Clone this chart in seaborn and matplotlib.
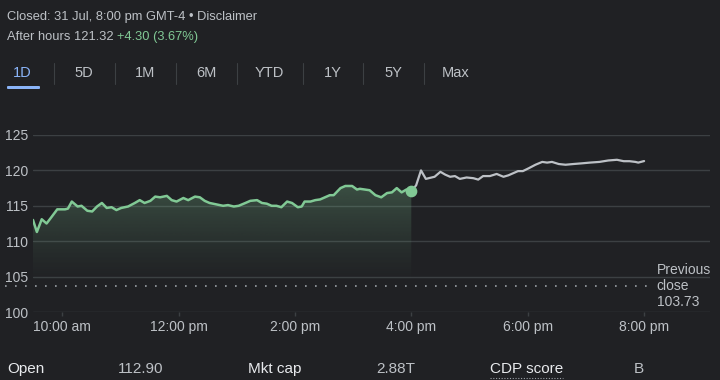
import numpy as np
import pandas as pd
import matplotlib
matplotlib.use('Agg')
import matplotlib.pyplot as plt
import seaborn as sns
from matplotlib.colors import to_rgb
from matplotlib.lines import Line2D
from matplotlib.patches import FancyBboxPatch

# ---- data ----
reg_times = ["9:30", "9:34", "9:39", "9:44", "9:49", "9:55", "10:03", "10:06", "10:10", "10:16",
             "10:20", "10:26", "10:31", "10:36", "10:41", "10:46", "10:51", "10:56", "11:01", "11:08",
             "11:15", "11:20", "11:25", "11:31", "11:36", "11:41", "11:48", "11:53", "11:58", "12:05",
             "12:10", "12:17", "12:22", "12:27", "12:32", "12:39", "12:46", "12:51", "12:57", "13:02",
             "13:09", "13:14", "13:21", "13:26", "13:31", "13:36", "13:41", "13:46", "13:52", "13:57",
             "14:03", "14:07", "14:10", "14:16", "14:21", "14:26", "14:31", "14:36", "14:40", "14:47",
             "14:52", "14:59", "15:04", "15:07", "15:17", "15:23", "15:29", "15:35", "15:40", "15:45",
             "15:50", "15:55", "16:00"]
reg_prices = [113.0, 111.3, 113.1, 112.5, 113.4, 114.5, 114.5, 114.6, 115.6, 114.9,
              115.0, 114.3, 114.2, 114.9, 115.4, 114.7, 114.8, 114.4, 114.7, 114.9,
              115.4, 115.8, 115.4, 115.7, 116.3, 116.2, 116.4, 115.8, 115.6, 116.1,
              115.8, 116.3, 116.2, 115.7, 115.4, 115.2, 115.0, 115.1, 114.9, 115.0,
              115.4, 115.7, 115.8, 115.4, 115.3, 115.0, 115.0, 114.8, 115.6, 115.4,
              114.8, 114.9, 115.6, 115.6, 115.8, 115.9, 116.2, 116.5, 116.5, 117.5,
              117.8, 117.8, 117.3, 117.4, 117.2, 116.5, 116.2, 116.8, 116.9, 117.5,
              116.9, 117.3, 117.02]

ah_times = ["16:00", "16:05", "16:10", "16:15", "16:21", "16:24", "16:30", "16:35", "16:40", "16:45",
            "16:50", "16:57", "17:04", "17:09", "17:14", "17:21", "17:28", "17:35", "17:40", "17:45",
            "17:50", "17:55", "18:01", "18:08", "18:15", "18:20", "18:25", "18:32", "18:39", "18:47",
            "18:56", "19:04", "19:14", "19:23", "19:32", "19:39", "19:45", "19:51", "19:54", "20:00"]
ah_prices = [117.02, 117.9, 120.0, 118.8, 119.0, 119.1, 119.8, 119.4, 119.1, 119.2,
             118.8, 119.0, 118.9, 118.7, 119.2, 119.2, 119.5, 119.1, 119.3, 119.6,
             119.9, 119.9, 120.3, 120.8, 121.2, 121.1, 121.2, 120.9, 120.8, 120.9,
             121.0, 121.1, 121.2, 121.4, 121.5, 121.3, 121.3, 121.2, 121.1, 121.32]

prev_close = 103.73
y_ticks = [100, 105, 110, 115, 120, 125]
x_ticks = [10, 12, 14, 16, 18, 20]
x_labels = ["10:00 am", "12:00 pm", "2:00 pm", "4:00 pm", "6:00 pm", "8:00 pm"]

tabs = ["1D", "5D", "1M", "6M", "YTD", "1Y", "5Y", "Max"]
stats_labels = ["Open", "Mkt cap", "CDP score"]
stats_values = ["112.90", "2.88T", "B"]

BG = '#202124'
GREEN = '#81c995'
GREY = '#bdc1c6'
DIM = '#9aa0a6'
GRID = '#3c4043'
BLUE = '#8ab4f8'
W, H = 720, 380


def to_hours(times):
    t = pd.to_datetime(pd.Series(times), format='%H:%M')
    return (t.dt.hour + t.dt.minute / 60).to_numpy()


def fx(px):
    return px / W


def fy(py):
    return 1 - py / H


reg = pd.DataFrame({'t': to_hours(reg_times), 'price': reg_prices})
ah = pd.DataFrame({'t': to_hours(ah_times), 'price': ah_prices})

sns.set_theme(style='dark', rc={'figure.facecolor': BG, 'axes.facecolor': BG})
plt.rcParams['font.family'] = ['Liberation Sans', 'DejaVu Sans']

fig = plt.figure(figsize=(7.2, 3.8), dpi=100)
ax = fig.add_axes([fx(33), fy(312), fx(677), 177 / H])

# gradient fill under the regular session, fading out towards previous close
poly = ax.fill_between(reg['t'], reg['price'], prev_close, facecolor='none', edgecolor='none')
grad = np.zeros((256, 1, 4))
grad[..., :3] = to_rgb(GREEN)
grad[..., 3] = (np.linspace(1, 0, 256) ** 1.3 * 0.27)[:, None]
im = ax.imshow(grad, extent=[reg['t'].min(), reg['t'].max(), prev_close, reg['price'].max()],
               aspect='auto', origin='upper', zorder=1)
im.set_clip_path(poly.get_paths()[0], transform=ax.transData)

sns.lineplot(data=reg, x='t', y='price', ax=ax, color=GREEN, linewidth=1.8, zorder=4)
sns.lineplot(data=ah, x='t', y='price', ax=ax, color=GREY, linewidth=1.6, zorder=3)
ax.scatter(reg['t'].iloc[-1], reg['price'].iloc[-1], s=55, color=GREEN, zorder=5)

# previous close dotted line
ax.plot([-0.041, 0.911], [prev_close, prev_close], transform=ax.get_yaxis_transform(),
        color=DIM, linewidth=1.2, linestyle=(0, (1, 5)), clip_on=False, zorder=2)
ax.text(0.921, 0.147, f"Previous\nclose\n{prev_close:.2f}", transform=ax.transAxes,
        color=GREY, fontsize=10, va='center', ha='left', linespacing=1.15)

ax.set_xlim(9.5, 9.5 + 677 / 58.2)
ax.set_ylim(100, 125)
ax.set_yticks(y_ticks)
ax.set_xticks(x_ticks)
ax.set_xticklabels(x_labels)
ax.set_xlabel('')
ax.set_ylabel('')
for yv in y_ticks:
    ax.axhline(yv, color=GRID, linewidth=1, zorder=0.5)
ax.grid(False)
for s in ax.spines.values():
    s.set_visible(False)
ax.tick_params(axis='y', length=0, pad=3.5, labelsize=10, labelcolor=GREY)
ax.tick_params(axis='x', length=3, width=1, color=GRID, pad=2.5, labelsize=10,
               labelcolor=GREY, bottom=True)

# header
fig.text(fx(7), fy(17), "Closed: 31 Jul, 8:00 pm GMT-4 \u2022 Disclaimer",
         color=GREY, fontsize=9.3, va='center')
t1 = fig.text(fx(7), fy(37), "After hours 121.32 ", color=GREY, fontsize=9.3, va='center')
ax.annotate("+4.30 (3.67%)", xy=(1, 0.5), xycoords=t1, va='center', ha='left',
            color=GREEN, fontsize=9.3, annotation_clip=False)

# range tabs
tab_x = [22, 84, 145, 206, 269, 333, 393, 456]
sep_x = [54, 115, 176, 237, 303, 363, 424]
for name, x in zip(tabs, tab_x):
    fig.text(fx(x), fy(73), name, color=BLUE if name == "1D" else GREY,
             fontsize=10.5, ha='center', va='center')
for x in sep_x:
    fig.add_artist(Line2D([fx(x), fx(x)], [fy(63), fy(84)], color=GRID, linewidth=0.8))
fig.add_artist(FancyBboxPatch((fx(7), fy(89)), fx(33), 3 / H,
                              boxstyle='round,pad=0,rounding_size=0.002',
                              transform=fig.transFigure, facecolor=BLUE, edgecolor='none'))

# key stats row
label_x = [7, 248, 490]
value_x = [118, 376, 634]
for lab, val, lx, vx in zip(stats_labels, stats_values, label_x, value_x):
    fig.text(fx(lx), fy(369), lab, color='#e8eaed', fontsize=11, va='center')
    fig.text(fx(vx), fy(369), val, color=GREY, fontsize=11, va='center')
fig.add_artist(Line2D([fx(490), fx(563)], [fy(378), fy(378)], color=DIM,
                      linewidth=0.8, linestyle=(0, (1, 1.5))))

plt.savefig('out.png', dpi=100, facecolor=BG)
plt.close()
